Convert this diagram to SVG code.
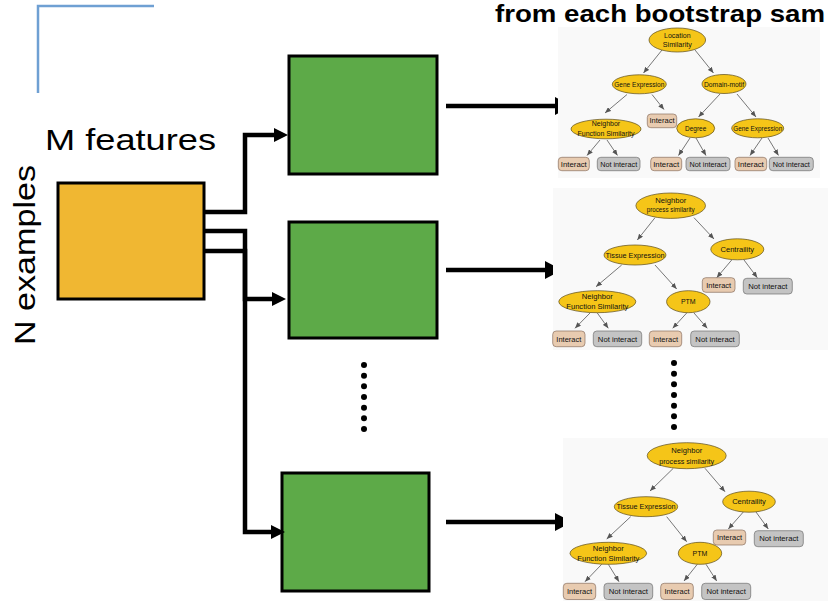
<svg xmlns="http://www.w3.org/2000/svg" width="828" height="601" viewBox="0 0 828 601">
<defs>
<marker id="ahS" markerUnits="userSpaceOnUse" markerWidth="14" markerHeight="14" viewBox="0 0 14 14" refX="2" refY="7" orient="auto"><path d="M0,0 L14,7 L0,14 z" fill="#000"/></marker>
<marker id="ahB" markerUnits="userSpaceOnUse" markerWidth="17" markerHeight="18" viewBox="0 0 17 18" refX="5" refY="9" orient="auto"><path d="M0,0 L17,9 L0,18 z" fill="#000"/></marker>
<marker id="ahT" markerUnits="userSpaceOnUse" markerWidth="6" markerHeight="5" viewBox="0 0 6 5" refX="6" refY="2.5" orient="auto"><path d="M0,0 L6,2.5 L0,5 z" fill="#555"/></marker>
<style>
text{font-family:"Liberation Sans",Arial,sans-serif}
.big{font-size:30px;fill:#000}
.title{font-size:24px;font-weight:bold;fill:#000}
.tt{font-size:7px;fill:#111;text-anchor:middle}
.ell{fill:#F5C518;stroke:#5a4a1a;stroke-width:0.7}
.yes{fill:#E8CBB0;stroke:#8a7060;stroke-width:0.7}
.no{fill:#C4C4C4;stroke:#707070;stroke-width:0.7}
.ta{stroke:#555;stroke-width:0.8;fill:none;marker-end:url(#ahT)}
.conn{stroke:#000;stroke-width:4.5;fill:none;stroke-linejoin:miter}
.orange{fill:#F0B732;stroke:#000;stroke-width:3}
.green{fill:#5DAA48;stroke:#000;stroke-width:3}
.bg{fill:#f9f9f9}
.dot{fill:#000}
</style>
</defs>
<rect width="828" height="601" fill="#fff"/>

<g id="corner">
<path d="M38,93 V6 H154" fill="none" stroke="#6FA0D3" stroke-width="2.5"/>
</g>

<g id="title"><text class="title" x="495" y="22" textLength="330" lengthAdjust="spacingAndGlyphs">from each bootstrap sam</text></g>

<g id="labels">
<text class="big" x="45" y="150" textLength="171" lengthAdjust="spacingAndGlyphs">M features</text>
<text class="big" transform="translate(35,345) rotate(-90)" textLength="180" lengthAdjust="spacingAndGlyphs">N examples</text>
</g>

<g id="data"><rect class="orange" x="58" y="183" width="146" height="116"/></g>
<g id="model1"><rect class="green" x="289" y="56" width="148" height="118"/></g>
<g id="model2"><rect class="green" x="289" y="222" width="148" height="116"/></g>
<g id="model3"><rect class="green" x="282" y="473" width="147" height="118"/></g>

<g id="connectors">
<path class="conn" d="M204,212 H245 V135 H276" marker-end="url(#ahS)"/>
<path class="conn" d="M204,251 H245 V299 H274" marker-end="url(#ahS)"/>
<path class="conn" d="M204,231 H245 V532 H273" marker-end="url(#ahS)"/>
<path class="conn" d="M446,106 H560" marker-end="url(#ahB)"/>
<path class="conn" d="M446,270 H550" marker-end="url(#ahB)"/>
<path class="conn" d="M446,522 H560" marker-end="url(#ahB)"/>
</g>

<g id="dots1">
<circle class="dot" cx="364" cy="365" r="3"/><circle class="dot" cx="364" cy="375.7" r="3"/><circle class="dot" cx="364" cy="386.3" r="3"/><circle class="dot" cx="364" cy="397" r="3"/><circle class="dot" cx="364" cy="407.7" r="3"/><circle class="dot" cx="364" cy="418.3" r="3"/><circle class="dot" cx="364" cy="429" r="3"/>
</g>
<g id="dots2">
<circle class="dot" cx="674" cy="363" r="3"/><circle class="dot" cx="674" cy="373.7" r="3"/><circle class="dot" cx="674" cy="384.3" r="3"/><circle class="dot" cx="674" cy="395" r="3"/><circle class="dot" cx="674" cy="405.7" r="3"/><circle class="dot" cx="674" cy="416.3" r="3"/><circle class="dot" cx="674" cy="427" r="3"/>
</g>

<g id="tree1">
<rect class="bg" x="558" y="27" width="262" height="151"/>
<path class="ta" d="M662,50 L643.5,73"/>
<path class="ta" d="M695,50 L713.5,73"/>
<path class="ta" d="M627,94.5 L605,113"/>
<path class="ta" d="M652,94.5 L664,109.5"/>
<path class="ta" d="M720,94 L698.5,117"/>
<path class="ta" d="M737,94 L756,117"/>
<path class="ta" d="M600,140 L587,155.5"/>
<path class="ta" d="M607,140 L617.5,155.5"/>
<path class="ta" d="M690,138 L678.5,155.5"/>
<path class="ta" d="M696,138 L706,155.5"/>
<path class="ta" d="M762,138 L750,155.5"/>
<path class="ta" d="M768,138 L778.5,155.5"/>
<ellipse class="ell" cx="677.3" cy="40" rx="28.3" ry="12"/>
<text class="tt" x="677.3" y="38">Location</text>
<text class="tt" x="677.3" y="47" textLength="29" lengthAdjust="spacingAndGlyphs">Similarity</text>
<ellipse class="ell" cx="639.3" cy="84.3" rx="27" ry="9.5"/>
<text class="tt" x="639.3" y="86.8" textLength="50" lengthAdjust="spacingAndGlyphs">Gene Expression</text>
<ellipse class="ell" cx="724" cy="84" rx="22" ry="9.5"/>
<text class="tt" x="724" y="86.5" textLength="40" lengthAdjust="spacingAndGlyphs">Domain-motif</text>
<ellipse class="ell" cx="606" cy="129" rx="35" ry="9.8"/>
<text class="tt" x="606" y="125.8">Neighbor</text>
<text class="tt" x="606" y="135.8" textLength="57" lengthAdjust="spacingAndGlyphs">Function Similarity</text>
<rect class="yes" x="647.3" y="114" width="29.4" height="13.7" rx="3.5"/>
<text class="tt" x="662" y="123.3" textLength="25" lengthAdjust="spacingAndGlyphs">Interact</text>
<ellipse class="ell" cx="695.7" cy="128.3" rx="19" ry="9.5"/>
<text class="tt" x="695.7" y="130.8" textLength="21.3" lengthAdjust="spacingAndGlyphs">Degree</text>
<ellipse class="ell" cx="757.7" cy="128.3" rx="26" ry="9.5"/>
<text class="tt" x="757.7" y="130.8" textLength="49" lengthAdjust="spacingAndGlyphs">Gene Expression</text>
<rect class="yes" x="558.3" y="157.3" width="31" height="13.4" rx="3.5"/>
<text class="tt" x="573.8" y="166.5" textLength="26" lengthAdjust="spacingAndGlyphs">Interact</text>
<rect class="no" x="597.3" y="157.3" width="42.7" height="13.4" rx="3.5"/>
<text class="tt" x="618.7" y="166.5" textLength="37" lengthAdjust="spacingAndGlyphs">Not interact</text>
<rect class="yes" x="650.7" y="157.3" width="31" height="13.4" rx="3.5"/>
<text class="tt" x="666.2" y="166.5" textLength="26" lengthAdjust="spacingAndGlyphs">Interact</text>
<rect class="no" x="686" y="157.3" width="44" height="13.4" rx="3.5"/>
<text class="tt" x="708" y="166.5" textLength="37" lengthAdjust="spacingAndGlyphs">Not interact</text>
<rect class="yes" x="735" y="157.3" width="31.7" height="13.4" rx="3.5"/>
<text class="tt" x="750.8" y="166.5" textLength="26" lengthAdjust="spacingAndGlyphs">Interact</text>
<rect class="no" x="769.3" y="157.3" width="44" height="13.4" rx="3.5"/>
<text class="tt" x="791.3" y="166.5" textLength="37" lengthAdjust="spacingAndGlyphs">Not interact</text>
</g>

<g id="tree2">
<rect class="bg" x="553" y="188" width="275" height="162"/>
<path class="ta" d="M655,217.7 L637.3,240"/>
<path class="ta" d="M694,217.7 L714,239"/>
<path class="ta" d="M621.7,265 L596,286.7"/>
<path class="ta" d="M655,265 L676.7,289"/>
<path class="ta" d="M731.7,260 L716.7,277.7"/>
<path class="ta" d="M744,260 L757.3,277.7"/>
<path class="ta" d="M590,313 L575,328.3"/>
<path class="ta" d="M597.3,313 L608.3,328.3"/>
<path class="ta" d="M686.7,313 L672.7,328.3"/>
<path class="ta" d="M694,313 L707.3,328.3"/>
<ellipse class="ell" cx="670.7" cy="205.7" rx="34.8" ry="12.7"/>
<text class="tt" x="670.7" y="202.5" textLength="31" lengthAdjust="spacingAndGlyphs">Neighbor</text>
<text class="tt" x="670.7" y="212" textLength="48" lengthAdjust="spacingAndGlyphs">process similarity</text>
<ellipse class="ell" cx="635" cy="255" rx="31" ry="10"/>
<text class="tt" x="635" y="257.5" textLength="59" lengthAdjust="spacingAndGlyphs">Tissue Expression</text>
<ellipse class="ell" cx="737.3" cy="249.3" rx="26.5" ry="10.5"/>
<text class="tt" x="737.3" y="251.8" textLength="33.7" lengthAdjust="spacingAndGlyphs">Centraility</text>
<ellipse class="ell" cx="597.3" cy="301.7" rx="38.5" ry="11"/>
<text class="tt" x="597.3" y="299" textLength="31" lengthAdjust="spacingAndGlyphs">Neighbor</text>
<text class="tt" x="597.3" y="309" textLength="62" lengthAdjust="spacingAndGlyphs">Function Similarity</text>
<ellipse class="ell" cx="688.3" cy="301.7" rx="21.7" ry="11"/>
<text class="tt" x="688.3" y="304.2">PTM</text>
<rect class="yes" x="702.3" y="277.7" width="32.7" height="14.6" rx="3.5"/>
<text class="tt" x="718.7" y="287.5" textLength="25" lengthAdjust="spacingAndGlyphs">Interact</text>
<rect class="no" x="743.3" y="278.3" width="49" height="15.7" rx="3.5"/>
<text class="tt" x="767.8" y="288.7" textLength="39.3" lengthAdjust="spacingAndGlyphs">Not interact</text>
<rect class="yes" x="552.7" y="331" width="32.3" height="15.7" rx="3.5"/>
<text class="tt" x="568.8" y="341.5" textLength="25" lengthAdjust="spacingAndGlyphs">Interact</text>
<rect class="no" x="593.3" y="331" width="48.4" height="15.7" rx="3.5"/>
<text class="tt" x="617.5" y="341.5" textLength="39.3" lengthAdjust="spacingAndGlyphs">Not interact</text>
<rect class="yes" x="649.3" y="331" width="32.4" height="15.7" rx="3.5"/>
<text class="tt" x="665.5" y="341.5" textLength="25" lengthAdjust="spacingAndGlyphs">Interact</text>
<rect class="no" x="690.7" y="331" width="48.6" height="15.7" rx="3.5"/>
<text class="tt" x="715" y="341.5" textLength="39.3" lengthAdjust="spacingAndGlyphs">Not interact</text>
</g>

<g id="tree3">
<rect class="bg" x="563" y="438" width="265" height="163"/>
<path class="ta" d="M673.3,468.3 L650,491"/>
<path class="ta" d="M705,468.3 L725,491.7"/>
<path class="ta" d="M630.7,516.7 L606.7,539"/>
<path class="ta" d="M666.7,516.7 L686.7,541.7"/>
<path class="ta" d="M743.3,512 L728.3,529"/>
<path class="ta" d="M756,512 L768.3,529"/>
<path class="ta" d="M601.7,564.3 L585,581.7"/>
<path class="ta" d="M608.3,564.3 L619,581.7"/>
<path class="ta" d="M697.3,564.3 L684,581"/>
<path class="ta" d="M706,564.3 L716.7,581"/>
<ellipse class="ell" cx="686.7" cy="455.7" rx="39.5" ry="13"/>
<text class="tt" x="686.7" y="453" textLength="31" lengthAdjust="spacingAndGlyphs">Neighbor</text>
<text class="tt" x="686.7" y="463.5" textLength="55" lengthAdjust="spacingAndGlyphs">process similarity</text>
<ellipse class="ell" cx="646" cy="506.7" rx="31.7" ry="10"/>
<text class="tt" x="646" y="509.2" textLength="59" lengthAdjust="spacingAndGlyphs">Tissue Expression</text>
<ellipse class="ell" cx="749" cy="501.7" rx="26.3" ry="10.5"/>
<text class="tt" x="749" y="504.2" textLength="33.7" lengthAdjust="spacingAndGlyphs">Centraility</text>
<ellipse class="ell" cx="608.3" cy="553.3" rx="38.3" ry="11"/>
<text class="tt" x="608.3" y="550.8" textLength="31" lengthAdjust="spacingAndGlyphs">Neighbor</text>
<text class="tt" x="608.3" y="560.8" textLength="62" lengthAdjust="spacingAndGlyphs">Function Similarity</text>
<ellipse class="ell" cx="700" cy="553.3" rx="21.7" ry="11"/>
<text class="tt" x="700" y="555.8">PTM</text>
<rect class="yes" x="713.3" y="530" width="32.4" height="15" rx="3.5"/>
<text class="tt" x="729.5" y="540" textLength="25" lengthAdjust="spacingAndGlyphs">Interact</text>
<rect class="no" x="754.3" y="530.7" width="49" height="16" rx="3.5"/>
<text class="tt" x="778.8" y="541.2" textLength="39.3" lengthAdjust="spacingAndGlyphs">Not interact</text>
<rect class="yes" x="563.3" y="583.3" width="32.4" height="16.2" rx="3.5"/>
<text class="tt" x="579.5" y="594" textLength="25" lengthAdjust="spacingAndGlyphs">Interact</text>
<rect class="no" x="604" y="583.3" width="48.7" height="16.2" rx="3.5"/>
<text class="tt" x="628.3" y="594" textLength="39.3" lengthAdjust="spacingAndGlyphs">Not interact</text>
<rect class="yes" x="660.7" y="583.3" width="32.6" height="16.2" rx="3.5"/>
<text class="tt" x="677" y="594" textLength="25" lengthAdjust="spacingAndGlyphs">Interact</text>
<rect class="no" x="701.7" y="583.3" width="49" height="16.2" rx="3.5"/>
<text class="tt" x="726.2" y="594" textLength="39.3" lengthAdjust="spacingAndGlyphs">Not interact</text>
</g>
</svg>
